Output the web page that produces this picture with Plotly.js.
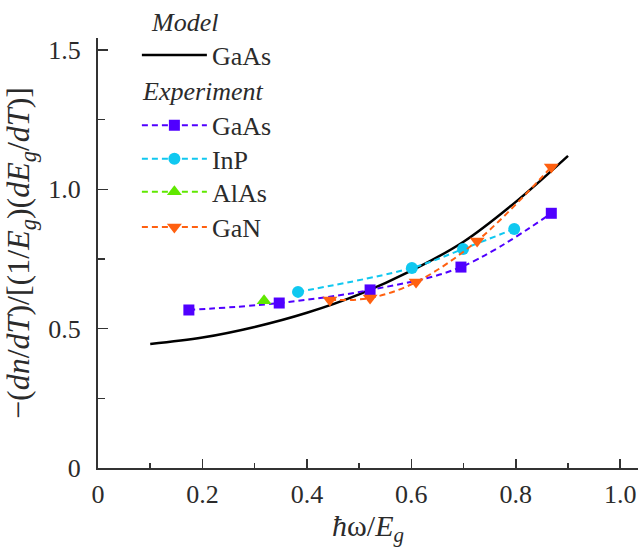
<!DOCTYPE html>
<html>
<head>
<meta charset="utf-8">
<script src="https://cdn.plot.ly/plotly-3.0.1.min.js"></script>
<style>html,body{margin:0;padding:0;background:#fff;}#chart{width:638px;height:547px;}</style>
</head>
<body>
<div id="chart"></div>
<script>
// Model curve (GaAs)
const model_x = [0.1, 0.2, 0.3, 0.4, 0.5, 0.6, 0.7, 0.8, 0.9];
const model_y = [0.445, 0.468, 0.506, 0.557, 0.623, 0.708, 0.812, 0.955, 1.12];
// Experiment
const gaas_x = [0.174, 0.347, 0.521, 0.695, 0.868];
const gaas_y = [0.567, 0.592, 0.639, 0.721, 0.914];
const inp_x = [0.383, 0.601, 0.699, 0.797];
const inp_y = [0.632, 0.718, 0.786, 0.858];
const alas_x = [0.318];
const alas_y = [0.600];
const gan_x = [0.444, 0.521, 0.609, 0.726, 0.868];
const gan_y = [0.603, 0.610, 0.667, 0.815, 1.080];

const x_tickvals = [0, 0.2, 0.4, 0.6, 0.8, 1.0];
const x_ticktext = ["0", "0.2", "0.4", "0.6", "0.8", "1.0"];
const y_tickvals = [0, 0.5, 1.0, 1.5];
const y_ticktext = ["0", "0.5", "1.0", "1.5"];

const FONT = "Liberation Serif";
const TXT = "#2b2b2b";
const LFONT = {family: FONT, size: 26, color: TXT};
const TFONT = {family: FONT, size: 26, color: TXT};
const XTFONT = {family: FONT, size: 30, color: TXT};
const YTFONT = {family: FONT, size: 32, color: TXT};

const dash = "6px,4px";
const traces = [
  {x: model_x, y: model_y, name: "GaAs", mode: "lines", legend: "legend",
   line: {color: "#000", width: 2.5, shape: "spline"}},
  {x: gaas_x, y: gaas_y, name: "GaAs", mode: "lines+markers", legend: "legend2",
   line: {color: "#5000ff", width: 2, dash: dash, shape: "spline"},
   marker: {symbol: "square", size: 11, color: "#5000ff"}},
  {x: inp_x, y: inp_y, name: "InP", mode: "lines+markers", legend: "legend3",
   line: {color: "#10c8f0", width: 2, dash: dash, shape: "spline"},
   marker: {symbol: "circle", size: 12, color: "#10c8f0"}},
  {x: alas_x, y: alas_y, name: "AlAs", mode: "lines+markers", legend: "legend4",
   line: {color: "#60e800", width: 2, dash: dash, shape: "spline"},
   marker: {symbol: "triangle-up", size: 13, color: "#60e800"}},
  {x: gan_x, y: gan_y, name: "GaN", mode: "lines+markers", legend: "legend5",
   line: {color: "#ff6010", width: 2, dash: dash, shape: "spline"},
   marker: {symbol: "triangle-down", size: 13, color: "#ff6010"}}
];

function leg(yc) {
  return {x: 0.072, y: yc, xanchor: "left", yanchor: "middle", bgcolor: "rgba(0,0,0,0)",
          font: LFONT, itemwidth: 65, borderwidth: 0};
}

const layout = {
  width: 638, height: 547,
  margin: {l: 98, r: 0, t: 38, b: 79},
  paper_bgcolor: "#fff", plot_bgcolor: "#fff",
  font: {family: FONT, size: 26, color: TXT},
  showlegend: true,
  legend: leg(0.960),
  legend2: leg(0.797),
  legend3: leg(0.719),
  legend4: leg(0.642),
  legend5: leg(0.560),
  annotations: [
    {text: "<i>Model</i>", xref: "paper", yref: "paper", x: (149 - 98) / 540, y: 1.037,
     xanchor: "left", yanchor: "middle", showarrow: false, font: LFONT},
    {text: "<i>Experiment</i>", xref: "paper", yref: "paper", x: (140 - 98) / 540, y: 0.876,
     xanchor: "left", yanchor: "middle", showarrow: false, font: LFONT}
  ],
  xaxis: {range: [0, 1.034], showgrid: false, zeroline: false, showline: true,
          linecolor: "#333", linewidth: 2, ticks: "inside", ticklen: 9, tickwidth: 1.5,
          tickcolor: "#333", tickvals: x_tickvals, ticktext: x_ticktext,
          ticklabelstandoff: 2,
          minor: {ticks: "inside", ticklen: 5, tickwidth: 1.5, tickcolor: "#333", dtick: 0.1, tick0: 0, showgrid: false},
          tickfont: TFONT,
          title: {text: "<i>ħ</i>ω/<i>E<sub>g</sub></i>", font: XTFONT, standoff: 6}},
  yaxis: {range: [0, 1.543], showgrid: false, zeroline: false, showline: true,
          linecolor: "#333", linewidth: 2, ticks: "inside", ticklen: 10, tickwidth: 1.5,
          tickcolor: "#333", tickvals: y_tickvals, ticktext: y_ticktext,
          ticklabelstandoff: 10,
          minor: {ticks: "inside", ticklen: 7, tickwidth: 1.5, tickcolor: "#333", dtick: 0.25, tick0: 0, showgrid: false},
          tickfont: TFONT,
          title: {text: "−(<i>dn</i>/<i>dT</i>)/[(1/<i>E<sub>g</sub></i>)(<i>dE<sub>g</sub></i>/<i>dT</i>)]",
                  font: YTFONT, standoff: 10}}
};

function draw() {
  Plotly.newPlot("chart", traces, layout, {displayModeBar: false, staticPlot: true});
}
if (document.fonts && document.fonts.load) {
  Promise.all([
    document.fonts.load('26px "Liberation Serif"'),
    document.fonts.load('italic 26px "Liberation Serif"')
  ]).then(draw, draw);
} else {
  draw();
}
</script>
</body>
</html>
